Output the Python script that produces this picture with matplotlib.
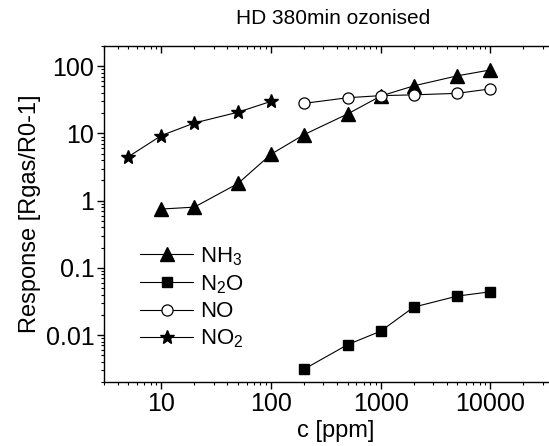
import numpy as np
import matplotlib
matplotlib.use("Agg")
import matplotlib.pyplot as plt
from matplotlib.ticker import LogLocator, NullFormatter, FixedLocator

plt.rcParams['font.family'] = ['Liberation Sans', 'DejaVu Sans']
plt.rcParams['mathtext.default'] = 'regular'

# data
c_nh3 = [10, 20, 50, 100, 200, 500, 1000, 2000, 5000, 10000]
r_nh3 = [0.75, 0.8, 1.8, 4.9, 9.6, 19.5, 36, 51, 72, 88]

c_n2o = [200, 500, 1000, 2000, 5000, 10000]
r_n2o = [0.0031, 0.0072, 0.0114, 0.026, 0.038, 0.044]

c_no = [200, 500, 1000, 2000, 5000, 10000]
r_no = [28, 34, 36.5, 37.5, 39.5, 46]

c_no2 = [5, 10, 20, 50, 100]
r_no2 = [4.5, 9.3, 14.3, 20.7, 30]

x_ticks = [10, 100, 1000, 10000]
x_ticklabels = ["10", "100", "1000", "10000"]
y_ticks = [0.01, 0.1, 1, 10, 100]
y_ticklabels = ["0.01", "0.1", "1", "10", "100"]

fig = plt.figure(figsize=(5.49, 4.46), dpi=100)
ax = fig.add_axes([104 / 549, 64 / 446, 463 / 549, 336 / 446])

lw = 0.8
ax.plot(c_nh3, r_nh3, '-^', color='black', lw=lw, ms=9.5, mfc='black', mec='black', label='NH$_3$')
ax.plot(c_n2o, r_n2o, '-s', color='black', lw=lw, ms=7.5, mfc='black', mec='black', label='N$_2$O')
ax.plot(c_no, r_no, '-o', color='black', lw=lw, ms=8, mfc='white', mec='black', mew=0.9, label='NO')
ax.plot(c_no2, r_no2, '-*', color='black', lw=lw, ms=10, mfc='black', mec='black', label='NO$_2$')

ax.set_xscale('log')
ax.set_yscale('log')
ax.set_xlim(3, 50000)
ax.set_ylim(0.002, 200)

ax.xaxis.set_major_locator(FixedLocator(x_ticks))
ax.set_xticklabels(x_ticklabels)
ax.yaxis.set_major_locator(FixedLocator(y_ticks))
ax.set_yticklabels(y_ticklabels)
ax.xaxis.set_minor_locator(LogLocator(base=10, subs=np.arange(2, 10), numticks=20))
ax.yaxis.set_minor_locator(LogLocator(base=10, subs=np.arange(2, 10), numticks=20))
ax.xaxis.set_minor_formatter(NullFormatter())
ax.yaxis.set_minor_formatter(NullFormatter())

for s in ax.spines.values():
    s.set_linewidth(1.0)

ax.tick_params(axis='both', which='major', labelsize=18, length=5, width=1.0, direction='out', pad=2)
ax.tick_params(axis='both', which='minor', length=2.5, width=0.8, direction='out')
ax.tick_params(axis='x', which='both', top=True)
# top ticks point into the plot
for t in ax.xaxis.get_major_ticks() + ax.xaxis.get_minor_ticks():
    t.tick2line.set_marker(matplotlib.lines.TICKDOWN)

ax.set_xlabel('c [ppm]', fontsize=17, labelpad=3)
ax.set_ylabel('Response [Rgas/R0-1]', fontsize=17, labelpad=3)
fig.text(333 / 549, 1 - 18 / 446, 'HD 380min ozonised', fontsize=15, ha='center', va='center')

ax.legend(loc='upper left', bbox_to_anchor=(140 / 549, 1 - 245 / 446), bbox_transform=fig.transFigure,
          frameon=False, fontsize=16, handlelength=2.4, handletextpad=0.3, labelspacing=0.25,
          borderaxespad=0, borderpad=0, markerscale=1.0)

fig.savefig('out.png', dpi=100)
